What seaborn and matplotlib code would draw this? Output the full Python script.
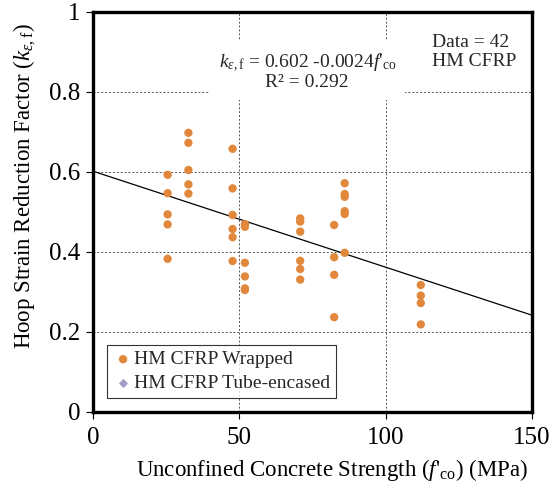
import matplotlib
matplotlib.use("Agg")
import matplotlib.pyplot as plt
import seaborn as sns
import pandas as pd
import numpy as np

# ---- data ----
fco_wrapped = [25.5]*5 + [32.6]*5 + [47.7]*6 + [51.9]*6 + [70.8]*6 + [82.4]*4 + [86.0]*6 + [112.0]*4
k_wrapped = [0.593, 0.547, 0.494, 0.469, 0.383,
             0.698, 0.673, 0.605, 0.569, 0.546,
             0.658, 0.559, 0.4925, 0.4575, 0.437, 0.3775,
             0.470, 0.463, 0.373, 0.339, 0.309, 0.305,
             0.484, 0.476, 0.451, 0.378, 0.3575, 0.331,
             0.4675, 0.387, 0.343, 0.237,
             0.572, 0.545, 0.538, 0.502, 0.495, 0.398,
             0.3175, 0.291, 0.2725, 0.219]
fco_tube = []
k_tube = []
fit_intercept = 0.602
fit_slope = -0.0024
x_ticks = [0, 50, 100, 150]
y_ticks = [0, 0.2, 0.4, 0.6, 0.8, 1]

sns.set_theme(style="white")
plt.rcParams['font.family'] = ['Liberation Serif', 'DejaVu Serif']
plt.rcParams['mathtext.fontset'] = 'custom'
plt.rcParams['mathtext.rm'] = 'Liberation Serif'
plt.rcParams['mathtext.it'] = 'Liberation Serif:italic'
plt.rcParams['mathtext.bf'] = 'Liberation Serif:bold'

fig = plt.figure(figsize=(5.56, 4.93), dpi=100)
ax = fig.add_axes([93/556, 1-412/493, (532-93)/556, (412-12)/493])

df = pd.DataFrame({"fco": fco_wrapped, "k": k_wrapped})
sns.scatterplot(data=df, x="fco", y="k", ax=ax, color="#E2883D", s=36,
                edgecolor="none", label="HM CFRP Wrapped", zorder=3)
ax.scatter(fco_tube, k_tube, marker="D", color="#A69CC6", s=14,
           label="HM CFRP Tube-encased", zorder=3)

xl = np.array([0, 150])
ax.plot(xl, fit_intercept + fit_slope*xl, color="black", lw=0.9, zorder=2)

ax.set_xlim(0, 150)
ax.set_ylim(0, 1)
ax.set_xticks(x_ticks)
ax.set_yticks(y_ticks)
ax.set_xticklabels([str(v) for v in x_ticks])
ax.set_yticklabels(["0", "0.2", "0.4", "0.6", "0.8", "1"])
ax.tick_params(axis="both", labelsize=18, direction="out", length=5, width=0.8,
               colors="black", bottom=True, left=True, pad=4)
ax.tick_params(axis="x", pad=6)
ax.grid(True, color="#555555", linestyle=(0, (2, 2)), linewidth=0.7)
for s in ax.spines.values():
    s.set_linewidth(2.4)
    s.set_color("black")

ax.set_xlabel("Unconfined Concrete Strength ($f$'$_{\\rm co}$) (MPa)", fontsize=16.5, color="black")
ax.set_ylabel("Hoop Strain Reduction Factor ($k_{\\varepsilon,\\rm f}$)", fontsize=16.5, color="black")
ax.xaxis.set_label_coords(0.544, -0.112)
ax.yaxis.set_label_coords(-0.125, 0.565)

ax.text(73.2, 0.852, "$k_{\\varepsilon,\\rm f}$ = 0.602 -0.0024$f$'$_{\\rm co}$\nR\u00b2 = 0.292",
        ha="center", va="center", fontsize=14, linespacing=1.0,
        bbox=dict(boxstyle="square,pad=0.45", fc="white", ec="none"), zorder=4)
ax.text(115.8, 0.901, "Data = 42\nHM CFRP", ha="left", va="center", fontsize=14,
        linespacing=1.15, bbox=dict(boxstyle="square,pad=0.3", fc="white", ec="none"), zorder=4)

leg = ax.legend(loc="lower left", bbox_to_anchor=(0.033, 0.036), fontsize=14,
                frameon=True, fancybox=False, edgecolor="black", handletextpad=0.05,
                handlelength=1.0, borderpad=0.3, labelspacing=0.3, markerscale=1.0,
                borderaxespad=0)
leg.get_frame().set_linewidth(0.8)

fig.savefig("out.png", dpi=100)
